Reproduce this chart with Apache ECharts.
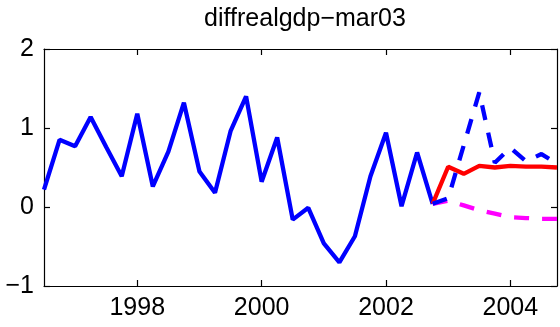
<!DOCTYPE html>
<html>
<head>
<meta charset="utf-8">
<script src="https://cdn.jsdelivr.net/npm/echarts@6/dist/echarts.min.js"></script>
<style>html,body{margin:0;padding:0;background:#fff}#c{width:560px;height:327px}</style>
</head>
<body>
<div id="c"></div>
<script>
const titleText = 'diffrealgdp\u2212mar03';
const histTimes = [1996.5,1996.75,1997,1997.25,1997.5,1997.75,1998,1998.25,1998.5,1998.75,1999,1999.25,1999.5,1999.75,2000,2000.25,2000.5,2000.75,2001,2001.25,2001.5,2001.75,2002,2002.25,2002.5,2002.75];
const histValues = [0.22,0.85,0.77,1.14,0.76,0.39,1.18,0.26,0.70,1.32,0.45,0.18,0.96,1.40,0.32,0.88,-0.16,-0.01,-0.46,-0.70,-0.37,0.39,0.94,0.01,0.69,0.04];
const fcTimes = [2002.75,2003,2003.25,2003.5,2003.75,2004,2004.25,2004.5,2004.75];
const fcBlueDash = [0.04,0.11,0.78,1.45,0.56,0.75,0.58,0.67,0.55];
const fcRed = [0.04,0.51,0.42,0.52,0.50,0.52,0.51,0.51,0.50];
const fcMagenta = [0.04,0.08,0.02,-0.04,-0.085,-0.13,-0.14,-0.15,-0.15];
const xTicks = [1998,2000,2002,2004];
const yTicks = [-1,0,1,2];

const pair = (t, v) => t.map((x, i) => [x, v[i]]);
const FONT = 'Liberation Sans';
const FS = 25;
const lineStyleAxis = {color: '#000', width: 1.2};

const chart = echarts.init(document.getElementById('c'), null, {renderer: 'canvas'});
chart.setOption({
  animation: false,
  backgroundColor: '#fff',
  title: {
    text: titleText, left: 300, top: 2, textAlign: 'center',
    textStyle: {fontFamily: FONT, fontSize: FS, fontWeight: 'normal', color: '#000'}
  },
  grid: {left: 44, right: 3, top: 49, bottom: 41, containLabel: false},
  xAxis: [{
    type: 'value', min: 1996.5, max: 2004.75, position: 'bottom',
    axisLine: {show: true, onZero: false, lineStyle: lineStyleAxis},
    axisTick: {show: true, inside: true, length: 6, customValues: xTicks, lineStyle: lineStyleAxis},
    axisLabel: {show: true, customValues: xTicks, margin: 10, fontFamily: FONT, fontSize: FS, color: '#000',
      formatter: v => String(v)},
    splitLine: {show: false}
  }, {
    type: 'value', min: 1996.5, max: 2004.75, position: 'top',
    axisLine: {show: true, onZero: false, lineStyle: lineStyleAxis},
    axisTick: {show: true, inside: true, length: 6, customValues: xTicks, lineStyle: lineStyleAxis},
    axisLabel: {show: false},
    splitLine: {show: false}
  }],
  yAxis: [{
    type: 'value', min: -1, max: 2, interval: 1, position: 'left',
    axisLine: {show: true, onZero: false, lineStyle: lineStyleAxis},
    axisTick: {show: true, inside: true, length: 6, lineStyle: lineStyleAxis},
    axisLabel: {show: true, margin: 10, fontFamily: FONT, fontSize: FS, color: '#000',
      formatter: v => String(v).replace('-', '\u2212')},
    splitLine: {show: false}
  }, {
    type: 'value', min: -1, max: 2, interval: 1, position: 'right',
    axisLine: {show: true, onZero: false, lineStyle: lineStyleAxis},
    axisTick: {show: true, inside: true, length: 6, lineStyle: lineStyleAxis},
    axisLabel: {show: false},
    splitLine: {show: false}
  }],
  series: [
    {type: 'line', data: pair(histTimes, histValues), showSymbol: false, symbol: 'none',
     lineStyle: {color: '#0000ff', width: 4.3}, z: 2},
    {type: 'line', data: pair(fcTimes, fcRed), showSymbol: false, symbol: 'none',
     lineStyle: {color: '#ff0000', width: 4.3}, z: 3},
    {type: 'line', data: pair(fcTimes, fcMagenta), showSymbol: false, symbol: 'none',
     lineStyle: {color: '#ff00ff', width: 4.3, type: [15, 13]}, z: 4},
    {type: 'line', data: pair(fcTimes, fcBlueDash), showSymbol: false, symbol: 'none',
     lineStyle: {color: '#0000ff', width: 4.3, type: [15, 13]}, z: 5}
  ]
});
</script>
</body>
</html>
